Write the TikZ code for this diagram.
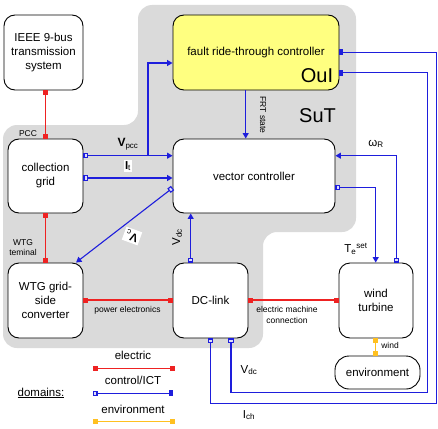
\documentclass[tikz,border=0pt]{standalone}
\usepackage{fontspec}
\setmainfont{Liberation Sans}
\usetikzlibrary{arrows.meta}
\definecolor{cblue}{RGB}{30,30,220}
\definecolor{cred}{RGB}{238,34,34}
\definecolor{cyel}{RGB}{255,192,32}
\definecolor{sutgray}{RGB}{218,218,218}
\definecolor{yfill}{RGB}{255,255,128}
\begin{document}
\begin{tikzpicture}[x=1pt,y=-1pt,
  box/.style={draw, line width=0.9pt, rounded corners=11pt, fill=white, align=center, inner sep=0pt, font=\fontsize{11.5}{14}\selectfont},
  small/.style={font=\fontsize{8.5}{10.5}\selectfont, align=center, inner sep=1pt},
  lbl/.style={font=\fontsize{11.5}{14}\selectfont, inner sep=1pt},
  big/.style={font=\fontsize{20}{24}\selectfont, inner sep=0pt},
  elec/.style={draw=cred, line width=1.2pt, {Square[length=5pt,width=5pt]}-{Square[length=5pt,width=5pt]}},
  envl/.style={draw=cyel, line width=1.2pt, {Square[length=5pt,width=5pt]}-{Square[length=5pt,width=5pt]}},
  ctl/.style={draw=cblue, line width=1.1pt},
  c2t/.style={{Square[length=4.5pt,width=5.5pt,fill=cblue!15]}-{Triangle[length=5.5pt,width=6pt]}},
  c2q/.style={{Square[length=4.5pt,width=5.5pt,fill=cblue!15]}-{Square[length=4pt,width=6pt]}},
  c0t/.style={-{Triangle[length=5.5pt,width=6pt]}}
]
\useasboundingbox (0,0) rectangle (438,428);
% SuT region
\fill[sutgray, rounded corners=14pt] (3,348) -- (3,125) -- (138,125) -- (138,5) -- (356,5) -- (356,232) -- (263,232) -- (263,348) -- cycle;

% boxes
\node[box, minimum width=79pt, minimum height=75pt] (ieee) at (43.5,52.5) {IEEE 9-bus\\transmission\\system};
\node[box, fill=yfill, minimum width=166pt, minimum height=75pt] (frt) at (256,52.5) {fault ride-through controller};
\node[big] (oui) at (317,75.5) {OuI};
\node[big] (sut) at (317.5,115.5) {SuT};
\node[box, minimum width=75pt, minimum height=74pt] (cg) at (45.5,176) {collection\\grid};
\node[box, minimum width=162pt, minimum height=74pt] (vc) at (254,176) {vector controller};
\node[box, minimum width=75pt, minimum height=75pt] (wtg) at (45.5,300.5) {WTG grid-\\side\\converter};
\node[box, minimum width=75pt, minimum height=75pt] (dc) at (210.5,300.5) {DC-link};
\node[box, minimum width=74pt, minimum height=75pt] (wt) at (376,300.5) {wind\\turbine};
\node[box, minimum width=85pt, minimum height=33pt, rounded corners=14pt] (env) at (377.5,372.5) {environment};

% guide coordinates
\coordinate (y52) at (0,52.3);
\coordinate (y63) at (0,63);
\coordinate (y73) at (0,72.7);
\coordinate (y156) at (0,155.7);
\coordinate (y178) at (0,178);
\coordinate (y187) at (0,187.5);
\coordinate (y188) at (0,188);
\coordinate (y300) at (0,300);
\coordinate (y393) at (0,392.7);
\coordinate (y404) at (0,403.5);
\coordinate (x45) at (45.5,0);
\coordinate (x76) at (76,0);
\coordinate (x148) at (148,0);
\coordinate (x191) at (190.7,0);
\coordinate (x211) at (210.7,0);
\coordinate (x231) at (231,0);
\coordinate (x246) at (245.7,0);
\coordinate (x376) at (375.7,0);
\coordinate (x396) at (396.3,0);
\coordinate (x427) at (427.3,0);
\coordinate (x436) at (436.5,0);

% electric
\draw[elec] (ieee.south -| x45) -- (cg.north -| x45);
\draw[elec] (cg.south -| x45) -- (wtg.north -| x45);
\draw[elec] (wtg.east |- y300) -- (dc.west |- y300);
\draw[elec] (dc.east |- y300) -- (wt.west |- y300);
% environment
\draw[envl] (wt.south -| x376) -- (env.north -| x376);

% control
\draw[ctl, c2t] (cg.east |- y156) -- (vc.west |- y156);
\coordinate (br) at (x148 |- y156);
\draw[ctl, c0t] (br) |- (frt.west |- y63);
\draw[ctl, c2t] (cg.east |- y178) -- (vc.west |- y178);
\draw[ctl, c2t] (vc.west |- y188) -- (wtg.north -| x76);
\draw[ctl, c2t] (dc.north -| x191) -- (vc.south -| x191);
\draw[ctl, c0t] (frt.south -| x246) -- (vc.north -| x246);
\draw[ctl, c2t] (wt.north -| x396) |- (vc.east |- y156);
\draw[ctl, c2t] (vc.east |- y187) -| (wt.north -| x376);
\draw[ctl, c2q] (dc.south -| x211) -- (x211 |- y404) -- (x436 |- y404) -- (x436 |- y52) -- (frt.east |- y52);
\draw[ctl, c2q] (dc.south -| x231) -- (x231 |- y393) -- (x427 |- y393) -- (x427 |- y73) -- (frt.east |- y73);

% labels
\node[lbl, font=\fontsize{12}{14}\selectfont] (lvpcc) at (128,144) {\textbf{V}\textsubscript{pcc}};
\node[lbl, fill=white] (lit) at (128,166) {\textbf{I}\textsubscript{t}};
\node[lbl, fill=white, inner sep=2pt, rotate=160] (lvc) at (132,236) {\textbf{V\kern0.5pt}\textsubscript{c}};
\node[lbl, rotate=90] (lvdc) at (177,237) {V\textsubscript{dc}};
\node[small, rotate=-90] (lfrt) at (263,115) {FRT state};
\node[lbl] (lom) at (376,144) {ω\textsubscript{R}};
\node[lbl] (lte) at (356,249) {T\textsubscript{e}\textsuperscript{set}};
\node[lbl] (lvdc2) at (249,370) {V\textsubscript{dc}};
\node[lbl] (lich) at (249,415) {I\textsubscript{ch}};
\node[small] (lpcc) at (28,134) {PCC};
\node[small] (lwtt) at (23,247.5) {WTG\\teminal};
\node[small] (lpe) at (127.5,310) {power electronics};
\node[small] (lem) at (287,315) {electric machine\\connection};
\node[small] (lwind) at (390,345.7) {wind};

% legend
\node[lbl] (le) at (133,355.7) {electric};
\node[lbl] (lc) at (133,380) {control/ICT};
\node[lbl] (len) at (133,409) {environment};
\node[lbl] (ld) at (41,393) {\underline{domains:}};
\coordinate (ea) at (93,368.5);
\coordinate (eb) at (175,368.5);
\coordinate (ca) at (93,393.3);
\coordinate (cb) at (173,393.3);
\coordinate (na) at (93,421.7);
\coordinate (nb) at (175,421.7);
\draw[elec] (ea) -- (eb);
\draw[ctl, c2q] (ca) -- (cb);
\draw[envl] (na) -- (nb);
\end{tikzpicture}
\end{document}
